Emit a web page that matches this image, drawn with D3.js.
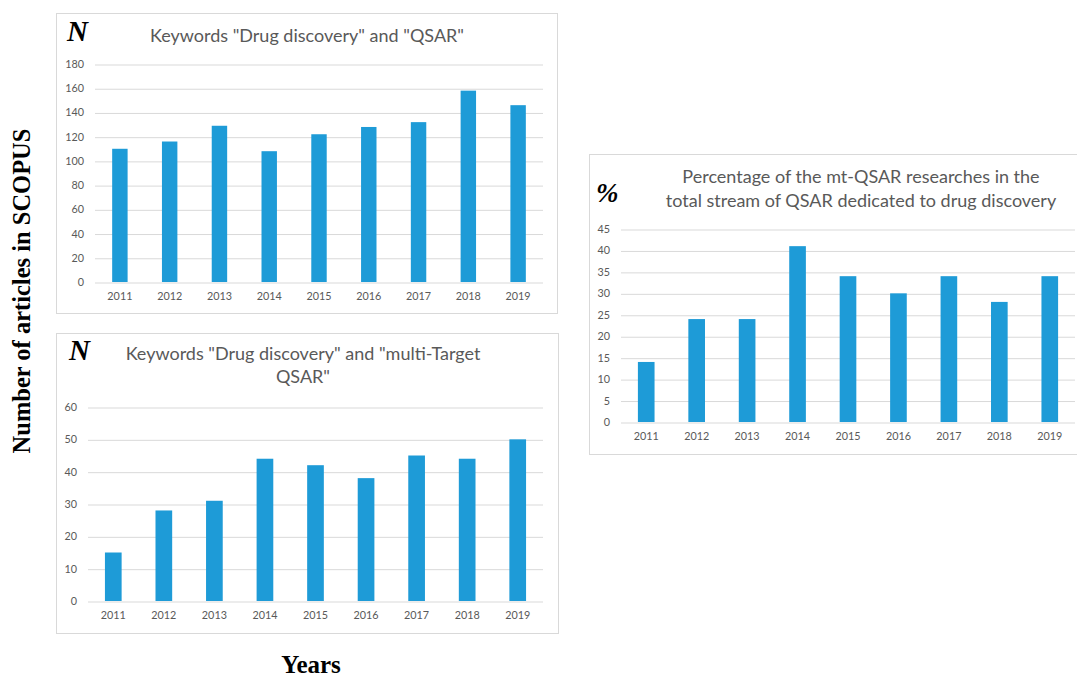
<!DOCTYPE html>
<html>
<head>
<meta charset="utf-8">
<script src="https://cdn.jsdelivr.net/npm/d3@7"></script>
<style>
    body { margin: 0; background: #fff; }
    .tick text { font-family: Lato, "Open Sans", sans-serif; font-size: 10.8px; fill: #595959; }
    .grid line { stroke: #d9d9d9; stroke-width: 1; }
</style>
</head>
<body>
<div id="chart"></div>
<script>
// chart data
const years = ["2011", "2012", "2013", "2014", "2015", "2016", "2017", "2018", "2019"];
const qsarCounts = [110, 116, 129, 108, 122, 128, 132, 158, 146];
const mtQsarCounts = [15, 28, 31, 44, 42, 38, 45, 44, 50];
const mtQsarPercent = [14, 24, 24, 41, 34, 30, 34, 28, 34];
const qsarTicks = [0, 20, 40, 60, 80, 100, 120, 140, 160, 180];
const mtQsarTicks = [0, 10, 20, 30, 40, 50, 60];
const percentTicks = [0, 5, 10, 15, 20, 25, 30, 35, 40, 45];

const barColor = "#1e9bd7";
const textColor = "#595959";

const svg = d3.select("#chart")
    .append("svg")
    .attr("width", 1077)
    .attr("height", 677);

function drawPanel(p) {
    const g = svg.append("g");

    // panel frame
    g.append("rect")
        .attr("x", p.box.x + 0.5)
        .attr("y", p.box.y + 0.5)
        .attr("width", p.box.w)
        .attr("height", p.box.h)
        .attr("fill", "#fff")
        .attr("stroke", "#d9d9d9");

    const x = d3.scaleBand()
        .domain(years)
        .range([p.plot.left, p.plot.right]);
    const y = d3.scaleLinear()
        .domain([0, p.ticks[p.ticks.length - 1]])
        .range([p.plot.bottom, p.plot.top]);

    // gridlines + y labels
    const yAxis = d3.axisLeft(y)
        .tickValues(p.ticks)
        .tickSize(-(p.plot.right - p.plot.left))
        .tickPadding(11);
    g.append("g")
        .attr("class", "grid")
        .attr("transform", `translate(${p.plot.left},0)`)
        .call(yAxis)
        .call(a => a.select(".domain").remove())
        .selectAll("line")
        .attr("transform", "translate(0,0.5)");

    // bars
    const bw = x.bandwidth() * p.barRatio;
    g.append("g")
        .selectAll("rect")
        .data(p.values)
        .join("rect")
        .attr("x", (d, i) => x(years[i]) + (x.bandwidth() - bw) / 2)
        .attr("y", d => y(d))
        .attr("width", bw)
        .attr("height", d => y(0) - y(d))
        .attr("fill", barColor);

    // x labels
    const xAxis = d3.axisBottom(x).tickSize(0).tickPadding(10);
    g.append("g")
        .attr("transform", `translate(0,${p.plot.bottom})`)
        .call(xAxis)
        .call(a => a.select(".domain").remove());

    // title
    const title = g.append("text")
        .attr("text-anchor", "middle")
        .attr("font-family", "Lato, 'Open Sans', sans-serif")
        .attr("font-size", p.titleSize)
        .attr("fill", textColor);
    p.title.forEach((line, i) => {
        title.append("tspan")
            .attr("x", p.titleX)
            .attr("y", p.titleY + i * p.titleLead)
            .text(line);
    });

    // unit symbol
    g.append("text")
        .attr("x", p.unit.x)
        .attr("y", p.unit.y)
        .attr("font-family", "'Liberation Serif', 'DejaVu Serif', serif")
        .attr("font-weight", "bold")
        .attr("font-style", "italic")
        .attr("font-size", p.unit.size)
        .attr("fill", "#000")
        .text(p.unit.text);
}

drawPanel({
    box: { x: 56, y: 13, w: 501, h: 300 },
    plot: { left: 95, right: 543, top: 64, bottom: 282 },
    values: qsarCounts,
    ticks: qsarTicks,
    barRatio: 0.31,
    title: ['Keywords "Drug discovery" and "QSAR"'],
    titleX: 307, titleY: 42, titleSize: 18, titleLead: 23,
    unit: { text: "N", x: 67, y: 41, size: 29 }
});

drawPanel({
    box: { x: 56, y: 333, w: 502, h: 300 },
    plot: { left: 88, right: 543, top: 407, bottom: 601 },
    values: mtQsarCounts,
    ticks: mtQsarTicks,
    barRatio: 0.33,
    title: ['Keywords "Drug discovery" and "multi-Target', 'QSAR"'],
    titleX: 303, titleY: 360, titleSize: 18, titleLead: 23,
    unit: { text: "N", x: 69, y: 360, size: 29 }
});

drawPanel({
    box: { x: 589, y: 154, w: 490, h: 300 },
    plot: { left: 621, right: 1075, top: 229, bottom: 422 },
    values: mtQsarPercent,
    ticks: percentTicks,
    barRatio: 0.33,
    title: ["Percentage of the mt-QSAR researches in the", "total stream of QSAR dedicated to drug discovery"],
    titleX: 861, titleY: 183, titleSize: 18, titleLead: 24,
    unit: { text: "%", x: 596, y: 202, size: 27 }
});

// shared axis titles
svg.append("text")
    .attr("transform", "translate(30,291) rotate(-90)")
    .attr("text-anchor", "middle")
    .attr("font-family", "'Liberation Serif', 'DejaVu Serif', serif")
    .attr("font-weight", "bold")
    .attr("font-size", 24.5)
    .attr("fill", "#000")
    .text("Number of articles in SCOPUS");

svg.append("text")
    .attr("x", 311)
    .attr("y", 673)
    .attr("text-anchor", "middle")
    .attr("font-family", "'Liberation Serif', 'DejaVu Serif', serif")
    .attr("font-weight", "bold")
    .attr("font-size", 25)
    .attr("fill", "#000")
    .text("Years");
</script>
</body>
</html>
